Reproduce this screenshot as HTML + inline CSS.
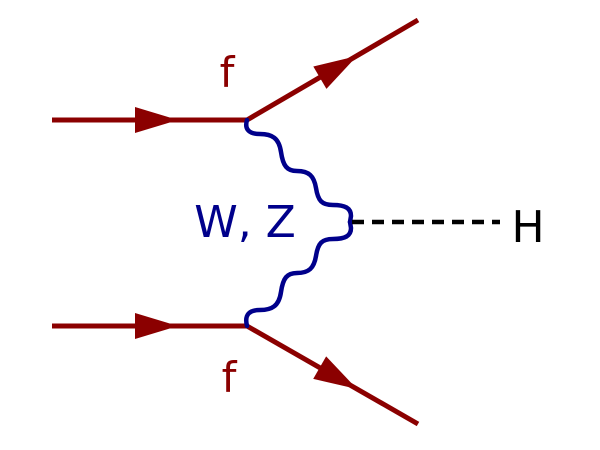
<!DOCTYPE html>
<html><head><style>html,body{margin:0;padding:0;background:#fff;}svg{display:block}</style></head>
<body>
<svg width="600" height="450" viewBox="0 0 600 450" xmlns="http://www.w3.org/2000/svg">
<g stroke="#8b0000" stroke-width="5" fill="none">
<line x1="52" y1="120" x2="248" y2="120"/>
<line x1="52" y1="326" x2="248" y2="326"/>
<line x1="247" y1="120" x2="418" y2="20"/>
<line x1="247" y1="326" x2="418" y2="424"/>
</g>
<g fill="#8b0000">
<polygon points="135,107 178,120 135,133"/>
<polygon points="135,313 178,326 135,339"/>
<g transform="translate(357,56) rotate(-30.3)"><polygon points="0,0 -43,-13 -43,13"/></g>
<g transform="translate(357,389) rotate(29.8)"><polygon points="0,0 -43,-13 -43,13"/></g>
</g>
<g stroke="#00008b" stroke-width="4.5" fill="none" stroke-linecap="round">
<path d="M247,120 C244,130 250,134 260,134 C272,134 279,138 281,152 C283,166 287,171 297,171 C309,171 314,176 316,188 C318,201 322,205 333,205 C345,205 351,208 351,216 L350,222"/>
<path d="M350,222 L351,228 C351,236 345,239 333,239 C322,239 318,243 316,256 C314,268 309,273 297,273 C287,273 283,278 281,292 C279,306 272,310 260,310 C250,310 244,314 247,326"/>
</g>
<line x1="352" y1="222" x2="500" y2="222" stroke="#000" stroke-width="4.5" stroke-dasharray="12,8"/>
<g font-family="'DejaVu Sans','Liberation Sans',sans-serif">
<text x="227" y="87" font-size="42" fill="#8b0000" text-anchor="middle">f</text>
<text x="229" y="392" font-size="42" fill="#8b0000" text-anchor="middle">f</text>
<text x="245" y="237" font-size="44" fill="#00008b" text-anchor="middle">W, Z</text>
<text x="528" y="242" font-size="44" fill="#000" text-anchor="middle">H</text>
</g>
</svg>
</body></html>
